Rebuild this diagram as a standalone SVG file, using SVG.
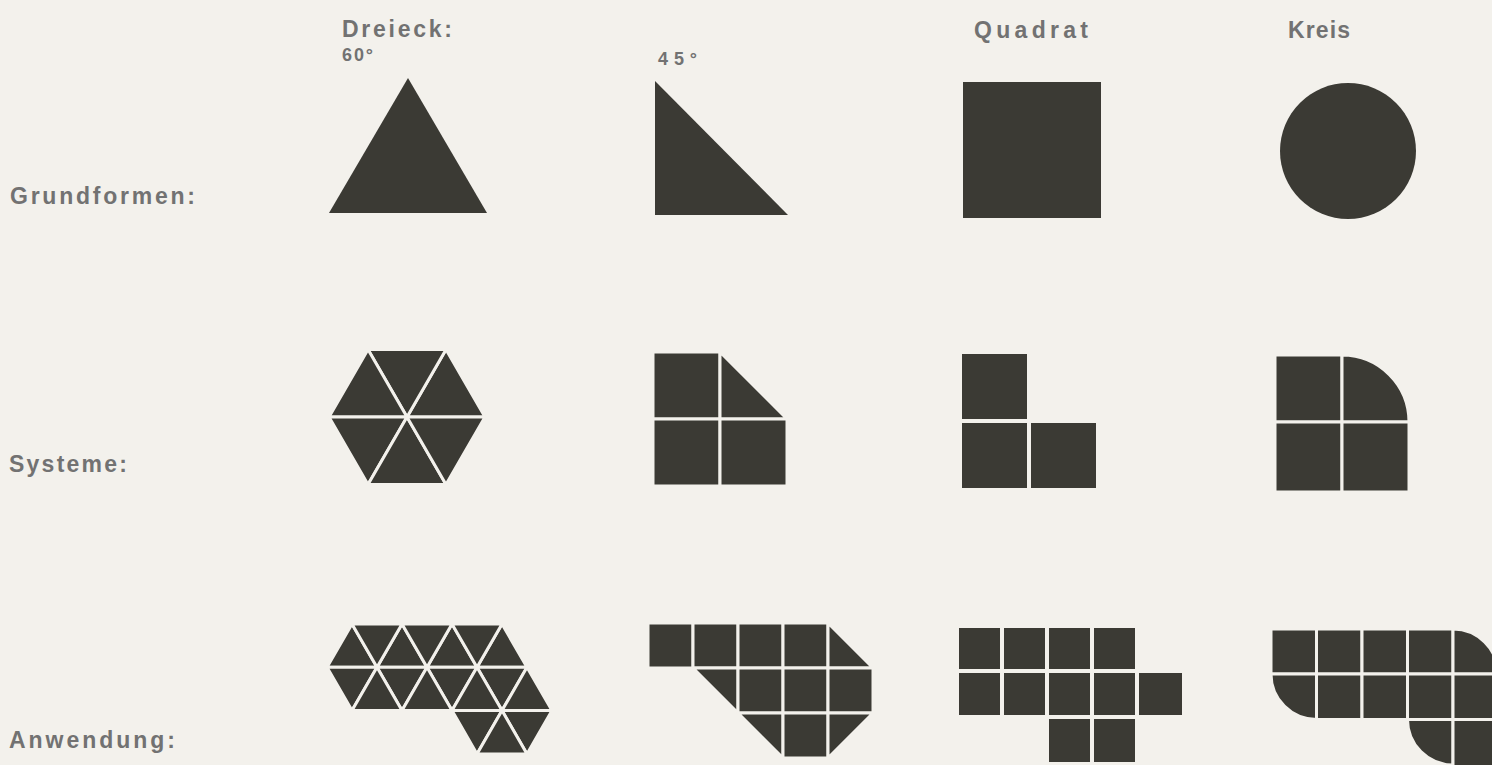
<svg xmlns="http://www.w3.org/2000/svg" width="1492" height="765" viewBox="0 0 1492 765">
<style>
.bg{fill:#f3f1ec}
.solid{fill:#3b3a34}
.t{fill:#3b3a34;stroke:#f3f1ec;stroke-width:3;stroke-linejoin:round}
.q{fill:#3b3a34;stroke:#f3f1ec;stroke-width:4;stroke-linejoin:round}
.lbl{font-family:"Liberation Sans",Arial,sans-serif;font-size:23px;font-weight:bold;fill:#727272}
.sm{font-family:"Liberation Sans",Arial,sans-serif;font-size:18px;font-weight:bold;fill:#727272}
</style>
<rect class="bg" x="0" y="0" width="1492" height="765"/>

<g id="labels">
<text class="lbl" x="342" y="37" textLength="110" lengthAdjust="spacing">Dreieck:</text>
<text class="sm" x="342" y="61" textLength="31" lengthAdjust="spacing">60°</text>
<text class="sm" x="658" y="65" textLength="39" lengthAdjust="spacing">45°</text>
<text class="lbl" x="974" y="38" textLength="114" lengthAdjust="spacing">Quadrat</text>
<text class="lbl" x="1288" y="38" textLength="62" lengthAdjust="spacing">Kreis</text>
<text class="lbl" x="10" y="204" textLength="185" lengthAdjust="spacing">Grundformen:</text>
<text class="lbl" x="9" y="472" textLength="118" lengthAdjust="spacing">Systeme:</text>
<text class="lbl" x="9" y="748" textLength="166" lengthAdjust="spacing">Anwendung:</text>
</g>

<!-- Grundformen -->
<g id="grund-dreieck60"><polygon class="solid" points="408,78 487,213 329,213"/></g>
<g id="grund-dreieck45"><polygon class="solid" points="655,81 788,215 655,215"/></g>
<g id="grund-quadrat"><rect class="solid" x="963" y="82" width="138" height="136"/></g>
<g id="grund-kreis"><circle class="solid" cx="1348" cy="151" r="68"/></g>

<!-- Systeme -->
<g id="sys-dreieck60">
<polygon class="t" points="407,417 485,417 446,349.5"/>
<polygon class="t" points="407,417 446,349.5 368,349.5"/>
<polygon class="t" points="407,417 368,349.5 329,417"/>
<polygon class="t" points="407,417 329,417 368,484.5"/>
<polygon class="t" points="407,417 368,484.5 446,484.5"/>
<polygon class="t" points="407,417 446,484.5 485,417"/>
</g>
<g id="sys-dreieck45">
<rect class="t" x="653" y="352" width="67" height="67"/>
<polygon class="t" points="720,352 787,419 720,419"/>
<rect class="t" x="653" y="419" width="67" height="67"/>
<rect class="t" x="720" y="419" width="67" height="67"/>
</g>
<g id="sys-quadrat">
<rect class="q" x="960" y="352" width="69" height="69"/>
<rect class="q" x="960" y="421" width="69" height="69"/>
<rect class="q" x="1029" y="421" width="69" height="69"/>
</g>
<g id="sys-kreis">
<rect class="t" x="1275" y="355" width="67" height="67"/>
<path class="t" d="M1342,422 V355 A67,67 0 0 1 1409,422 Z"/>
<rect class="t" x="1275" y="422" width="67" height="70"/>
<rect class="t" x="1342" y="422" width="67" height="70"/>
</g>

<!-- Anwendung -->
<g id="anw-dreieck60">
<polygon class="t" points="327,667.3 377,667.3 352,624"/>
<polygon class="t" points="377,667.3 427,667.3 402,624"/>
<polygon class="t" points="427,667.3 477,667.3 452,624"/>
<polygon class="t" points="477,667.3 527,667.3 502,624"/>
<polygon class="t" points="352,624 402,624 377,667.3"/>
<polygon class="t" points="402,624 452,624 427,667.3"/>
<polygon class="t" points="452,624 502,624 477,667.3"/>
<polygon class="t" points="327,667.3 377,667.3 352,710.6"/>
<polygon class="t" points="377,667.3 427,667.3 402,710.6"/>
<polygon class="t" points="427,667.3 477,667.3 452,710.6"/>
<polygon class="t" points="477,667.3 527,667.3 502,710.6"/>
<polygon class="t" points="352,710.6 402,710.6 377,667.3"/>
<polygon class="t" points="402,710.6 452,710.6 427,667.3"/>
<polygon class="t" points="452,710.6 502,710.6 477,667.3"/>
<polygon class="t" points="502,710.6 552,710.6 527,667.3"/>
<polygon class="t" points="452,710.6 502,710.6 477,753.9"/>
<polygon class="t" points="502,710.6 552,710.6 527,753.9"/>
<polygon class="t" points="477,753.9 527,753.9 502,710.6"/>
</g>
<g id="anw-dreieck45">
<rect class="t" x="648" y="623" width="45" height="45"/>
<rect class="t" x="693" y="623" width="45" height="45"/>
<rect class="t" x="738" y="623" width="45" height="45"/>
<rect class="t" x="783" y="623" width="45" height="45"/>
<polygon class="t" points="828,623 873,668 828,668"/>
<polygon class="t" points="693,668 738,668 738,713"/>
<rect class="t" x="738" y="668" width="45" height="45"/>
<rect class="t" x="783" y="668" width="45" height="45"/>
<rect class="t" x="828" y="668" width="45" height="45"/>
<polygon class="t" points="738,713 783,713 783,758"/>
<rect class="t" x="783" y="713" width="45" height="45"/>
<polygon class="t" points="828,713 873,713 828,758"/>
</g>
<g id="anw-quadrat">
<rect class="q" x="957" y="626" width="45" height="45"/>
<rect class="q" x="1002" y="626" width="45" height="45"/>
<rect class="q" x="1047" y="626" width="45" height="45"/>
<rect class="q" x="1092" y="626" width="45" height="45"/>
<rect class="q" x="957" y="671" width="45" height="46"/>
<rect class="q" x="1002" y="671" width="45" height="46"/>
<rect class="q" x="1047" y="671" width="45" height="46"/>
<rect class="q" x="1092" y="671" width="45" height="46"/>
<rect class="q" x="1137" y="671" width="47" height="46"/>
<rect class="q" x="1047" y="717" width="45" height="47"/>
<rect class="q" x="1092" y="717" width="45" height="47"/>
</g>
<g id="anw-kreis">
<rect class="t" x="1271" y="629" width="45.5" height="45"/>
<rect class="t" x="1316.5" y="629" width="45.5" height="45"/>
<rect class="t" x="1362" y="629" width="45.5" height="45"/>
<rect class="t" x="1407.5" y="629" width="45.5" height="45"/>
<path class="t" d="M1453,674 V629 A45,45 0 0 1 1498,674 Z"/>
<path class="t" d="M1316.5,674 H1271 A45.5,45.5 0 0 0 1316.5,719.5 Z"/>
<rect class="t" x="1316.5" y="674" width="45.5" height="45.5"/>
<rect class="t" x="1362" y="674" width="45.5" height="45.5"/>
<rect class="t" x="1407.5" y="674" width="45.5" height="45.5"/>
<rect class="t" x="1453" y="674" width="45" height="45.5"/>
<path class="t" d="M1453,719.5 H1407.5 A45.5,45.5 0 0 0 1453,765 Z"/>
<rect class="t" x="1453" y="719.5" width="45" height="47"/>
</g>
</svg>
